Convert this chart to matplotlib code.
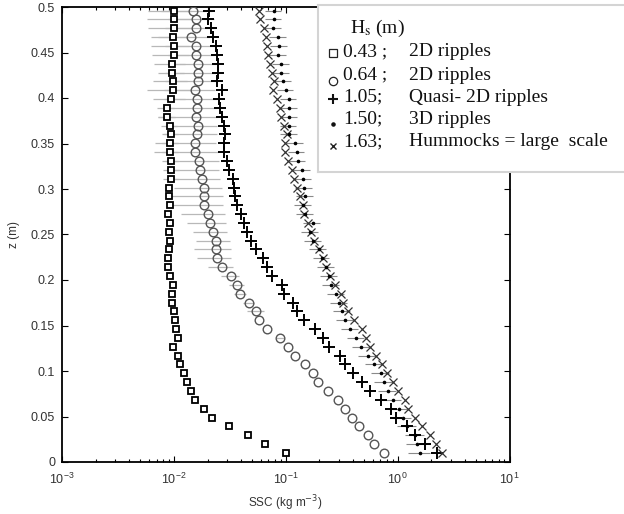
import numpy as np
import matplotlib
matplotlib.use("Agg")
import matplotlib.pyplot as plt
from matplotlib.ticker import FuncFormatter, MultipleLocator, LogLocator, NullFormatter

# ---- data, ordered from bottom (z small) to top ----
z = [0.0100, 0.0197, 0.0294, 0.0392, 0.0489, 0.0586, 0.0683, 0.0780, 0.0878, 0.0975,
     0.1072, 0.1169, 0.1266, 0.1364, 0.1461, 0.1558, 0.1655, 0.1752, 0.1850, 0.1947,
     0.2044, 0.2141, 0.2238, 0.2336, 0.2433, 0.2530, 0.2627, 0.2724, 0.2822, 0.2919,
     0.3016, 0.3113, 0.3210, 0.3308, 0.3405, 0.3502, 0.3599, 0.3696, 0.3794, 0.3891,
     0.3988, 0.4085, 0.4182, 0.4280, 0.4377, 0.4474, 0.4571, 0.4668, 0.4766, 0.4863,
     0.4960]

# Hs = 0.43 m, 2D ripples (squares)
ssc_043 = [0.100, 0.0655, 0.0459, 0.0308, 0.0221, 0.0185, 0.0154, 0.0143, 0.0131, 0.0123,
           0.0114, 0.0109, 0.0099, 0.0109, 0.0104, 0.0103, 0.0101, 0.0096, 0.0096, 0.0098,
           0.0092, 0.0089, 0.0089, 0.0091, 0.0093, 0.0091, 0.0092, 0.0089, 0.0092, 0.0091,
           0.0090, 0.0095, 0.0095, 0.0094, 0.0093, 0.0093, 0.0094, 0.0092, 0.0087, 0.0086,
           0.0095, 0.0098, 0.0098, 0.0097, 0.0097, 0.0100, 0.0100, 0.0099, 0.0100, 0.0101,
           0.0101]
err_043 = [0]*31 + [0.0015]*9 + [0.0030, 0.0040, 0.0033, 0.0025, 0.0030, 0.0036, 0.0037,
                                0.0037, 0.0041, 0.0043, 0.0042]

# Hs = 0.64 m, 2D ripples (circles)
ssc_064 = [0.761, 0.611, 0.540, 0.452, 0.391, 0.341, 0.291, 0.237, 0.193, 0.175,
           0.149, 0.122, 0.105, 0.0888, 0.0679, 0.0576, 0.0545, 0.0465, 0.0392, 0.0368,
           0.0323, 0.0270, 0.0242, 0.0237, 0.0237, 0.0223, 0.0210, 0.0200, 0.0187, 0.0185,
           0.0185, 0.0180, 0.0172, 0.0168, 0.0156, 0.0153, 0.0162, 0.0164, 0.0157, 0.0162,
           0.0162, 0.0156, 0.0164, 0.0164, 0.0164, 0.0159, 0.0159, 0.0142, 0.0159, 0.0159,
           0.0147]
err_064 = [0]*13 + [0.0075, 0, 0, 0.009, 0.005, 0.005, 0.0055, 0.006, 0.007] + \
          [0.008, 0.0085, 0.008, 0.0075, 0.008, 0.0085, 0.009, 0.009, 0.0085, 0.008,
           0.008, 0.0085, 0.009, 0.0085, 0.008, 0.008, 0.0085, 0.008, 0.008, 0.0075,
           0.008, 0.008, 0.0075, 0.007, 0.0075, 0.007, 0.0075, 0.007, 0.007]

# Hs = 1.05 m, quasi-2D ripples (plus)
ssc_105 = [2.25, 1.74, 1.44, 1.21, 0.975, 0.879, 0.705, 0.570, 0.479, 0.402,
           0.341, 0.303, 0.242, 0.214, 0.184, 0.147, 0.125, 0.116, 0.0956, 0.0925,
           0.0752, 0.0679, 0.0625, 0.0541, 0.0488, 0.0450, 0.0425, 0.0400, 0.0366, 0.0353,
           0.0346, 0.0341, 0.0310, 0.0298, 0.0278, 0.0283, 0.0288, 0.0278, 0.0269, 0.0261,
           0.0254, 0.0269, 0.0245, 0.0249, 0.0249, 0.0242, 0.0237, 0.0226, 0.0214, 0.0200,
           0.0204]

# Hs = 1.50 m, 3D ripples (dots)
ssc_150 = [1.58, 1.49, 1.44, 1.22, 1.11, 1.02, 0.901, 0.815, 0.761, 0.705,
           0.619, 0.538, 0.474, 0.428, 0.378, 0.341, 0.318, 0.301, 0.283, 0.256,
           0.244, 0.229, 0.210, 0.197, 0.177, 0.166, 0.174, 0.150, 0.144, 0.150,
           0.147, 0.144, 0.140, 0.128, 0.125, 0.122, 0.108, 0.106, 0.108, 0.108,
           0.106, 0.100, 0.0944, 0.0912, 0.0906, 0.0845, 0.0875, 0.0852, 0.0768, 0.0778,
           0.0778]
err_150 = [0.35, 0.30, 0.28, 0.24, 0.21, 0.19, 0.17, 0.15, 0.14, 0.13,
           0.11, 0.10, 0.085, 0.075, 0.065, 0.06, 0.055, 0.052, 0.05, 0.045,
           0.042, 0.04, 0.036, 0.034, 0.03, 0.028, 0.03, 0.026, 0.025, 0.026,
           0.025, 0.025, 0.024, 0.022, 0.021, 0.021, 0.019, 0.018, 0.019, 0.019,
           0.018, 0.017, 0.016, 0.016, 0.016, 0.015, 0.015, 0.015, 0.013, 0.013,
           0.013]

# Hs = 1.63 m, hummocks (crosses)
ssc_163 = [2.51, 2.20, 1.96, 1.64, 1.44, 1.24, 1.16, 1.00, 0.907, 0.810,
           0.726, 0.639, 0.570, 0.518, 0.476, 0.404, 0.357, 0.327, 0.312, 0.276,
           0.247, 0.228, 0.214, 0.199, 0.179, 0.167, 0.157, 0.147, 0.143, 0.133,
           0.127, 0.119, 0.113, 0.105, 0.0990, 0.0990, 0.102, 0.0964, 0.0912, 0.0880,
           0.0827, 0.0768, 0.0784, 0.0752, 0.0727, 0.0697, 0.0679, 0.0660, 0.0633, 0.0583,
           0.0571]

legend_hs = ["0.43 ;", "0.64 ;", "1.05;", "1.50;", "1.63;"]
legend_desc = ["2D ripples", "2D ripples", "Quasi- 2D ripples", "3D ripples",
               "Hummocks = large  scale"]

plt.rcParams['font.family'] = ['Liberation Sans', 'DejaVu Sans']

W, H = 624, 514
fig = plt.figure(figsize=(W/100, H/100), dpi=100)
ax = fig.add_axes([62/W, 1-462/H, (509.5-62)/W, (462-7)/H])

grey_bar = '#b8b8b8'
ax.errorbar(ssc_043, z, xerr=err_043, fmt='none', ecolor=grey_bar, elinewidth=0.9, zorder=1)
ax.errorbar(ssc_064, z, xerr=err_064, fmt='none', ecolor=grey_bar, elinewidth=0.9, zorder=1)
ax.errorbar(ssc_150, z, xerr=err_150, fmt='none', ecolor='#8a8a8a', elinewidth=0.8, zorder=1)

ax.plot(ssc_043, z, 's', ms=4.6, mfc='white', mec='black', mew=1.3, zorder=3)
ax.plot(ssc_064, z, 'o', ms=6.2, mfc='none', mec='#555555', mew=1.0, zorder=3)
ax.plot(ssc_105, z, '+', ms=8.5, mec='black', mew=1.4, zorder=3)
ax.plot(ssc_163, z, 'x', ms=5.2, mec='#333333', mew=0.9, zorder=3)
ax.plot(ssc_150, z, '.', ms=3.2, color='black', zorder=4)

ax.set_xscale('log')
ax.set_xlim(1e-3, 1e1)
ax.set_ylim(0, 0.5)
ax.yaxis.set_major_locator(MultipleLocator(0.05))
ax.yaxis.set_major_formatter(FuncFormatter(lambda v, p: '%g' % round(v, 2)))
ax.xaxis.set_major_locator(LogLocator(base=10, numticks=10))
ax.xaxis.set_minor_locator(LogLocator(base=10, subs=np.arange(2, 10), numticks=10))
ax.xaxis.set_minor_formatter(NullFormatter())

ax.tick_params(which='both', direction='in', top=True, right=True, colors='black',
               labelcolor='#333333', labelsize=9, width=0.8)
ax.tick_params(which='major', length=4)
ax.tick_params(which='minor', length=2)
ax.tick_params(axis='x', pad=7)
ax.tick_params(axis='y', pad=5)
for s in ax.spines.values():
    s.set_linewidth(1.3)

ax.set_xlabel('SSC (kg m$^{-3}$)', fontsize=8.5, color='#333333', labelpad=5)
ax.set_ylabel('z (m)', fontsize=8.5, color='#333333', labelpad=8)

# ---- legend panel drawn in pixel coordinates ----
lx0, ly0, ly1 = 318, 5, 172
lg = fig.add_axes([lx0/W, 1-ly1/H, (W+4-lx0)/W, (ly1-ly0)/H])
lg.set_xlim(lx0, W+4)
lg.set_ylim(ly1, ly0)
lg.set_xticks([])
lg.set_yticks([])
lg.set_facecolor('white')
for s in lg.spines.values():
    s.set_color('#d4d4d4')
    s.set_linewidth(1.5)

serif = ['Liberation Serif', 'DejaVu Serif']
fs = 14
lg.text(350, 28.5, r'H$_\mathrm{s}$ (m)', family=serif, math_fontfamily='stix',
        fontsize=fs, va='center', ha='left', color='#111111')
row_y = [51.7, 75, 97.3, 119.3, 141.7]
mark_y = [53, 81, 99.5, 124, 146]
mark_style = [dict(marker='s', ms=6, mfc='none', mec='#222222', mew=0.9),
              dict(marker='o', ms=6, mfc='none', mec='#222222', mew=0.9),
              dict(marker='+', ms=7.5, mec='#111111', mew=1.5),
              dict(marker='.', ms=4.5, color='#111111'),
              dict(marker='x', ms=5, mec='#222222', mew=1.0)]
for i in range(5):
    lg.plot([333], [mark_y[i]], linestyle='none', **mark_style[i])
    lg.text(343, row_y[i], legend_hs[i], family=serif, fontsize=fs, va='center',
            ha='left', color='#111111')
    lg.text(409, row_y[i], legend_desc[i], family=serif, fontsize=fs, va='center',
            ha='left', color='#111111')

fig.savefig('out.png', dpi=100)
